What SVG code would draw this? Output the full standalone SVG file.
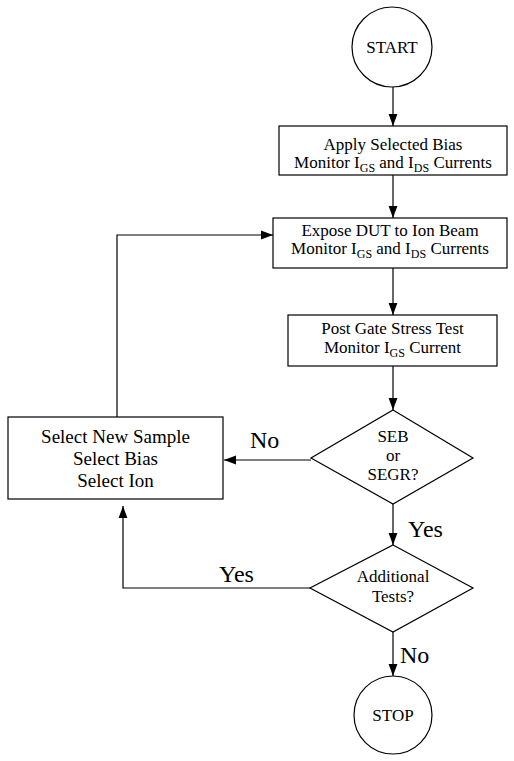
<svg xmlns="http://www.w3.org/2000/svg" width="514" height="761" viewBox="0 0 514 761">
<defs>
<marker id="ah" markerUnits="userSpaceOnUse" markerWidth="12" markerHeight="16" refX="15" refY="5.5" orient="auto" viewBox="0 0 15 11">
<path d="M0,0 L15,5.5 L0,11 Z" fill="#000"/>
</marker>
</defs>
<style>
.sh{fill:#fff;stroke:#000;stroke-width:1.2}
.t{font-family:"Liberation Serif","Times New Roman",serif;font-size:17px;fill:#000;text-anchor:middle}
.big{font-size:19px}
.lbl{font-family:"Liberation Serif","Times New Roman",serif;font-size:24px;fill:#000}
.c{fill:none;stroke:#000;stroke-width:1.2}
</style>
<rect width="514" height="761" fill="#fff"/>
<g id="connectors">
<line class="c" x1="393" y1="87" x2="393" y2="126" marker-end="url(#ah)"/>
<line class="c" x1="393" y1="175" x2="393" y2="218" marker-end="url(#ah)"/>
<line class="c" x1="393" y1="268" x2="393" y2="315" marker-end="url(#ah)"/>
<line class="c" x1="393" y1="366" x2="393" y2="410" marker-end="url(#ah)"/>
<polyline class="c" points="117,417 117,235 273,235" marker-end="url(#ah)"/>
<line class="c" x1="311" y1="460" x2="224" y2="460" marker-end="url(#ah)"/>
<line class="c" x1="393" y1="504" x2="393" y2="545" marker-end="url(#ah)"/>
<polyline class="c" points="310,588 123,588 123,506" marker-end="url(#ah)"/>
<line class="c" x1="393" y1="632" x2="393" y2="676" marker-end="url(#ah)"/>
<text class="lbl" x="250" y="448">No</text>
<text class="lbl" x="408" y="537">Yes</text>
<text class="lbl" x="219" y="582">Yes</text>
<text class="lbl" x="400" y="663">No</text>
</g>
<g id="start">
<circle class="sh" cx="392" cy="47" r="40"/>
<text class="t" x="392" y="53" font-size="16.5">START</text>
</g>
<g id="apply">
<rect class="sh" x="279" y="126" width="228" height="49"/>
<text class="t" x="393" y="150">Apply Selected Bias</text>
<text class="t" x="393" y="168">Monitor I<tspan font-size="12" dy="4">GS</tspan><tspan dy="-4"> and I</tspan><tspan font-size="12" dy="4">DS</tspan><tspan dy="-4"> Currents</tspan></text>
</g>
<g id="expose">
<rect class="sh" x="273" y="218" width="234" height="50"/>
<text class="t" x="390" y="236">Expose DUT to Ion Beam</text>
<text class="t" x="390" y="254">Monitor I<tspan font-size="12" dy="4">GS</tspan><tspan dy="-4"> and I</tspan><tspan font-size="12" dy="4">DS</tspan><tspan dy="-4"> Currents</tspan></text>
</g>
<g id="post">
<rect class="sh" x="288" y="315" width="209" height="51"/>
<text class="t" x="392.5" y="334">Post Gate Stress Test</text>
<text class="t" x="392.5" y="353">Monitor I<tspan font-size="12" dy="4">GS</tspan><tspan dy="-4"> Current</tspan></text>
</g>
<g id="select">
<rect class="sh" x="8" y="417" width="215" height="82"/>
<text class="t big" x="115.5" y="443">Select New Sample</text>
<text class="t big" x="115.5" y="465">Select Bias</text>
<text class="t big" x="115.5" y="487">Select Ion</text>
</g>
<g id="seb">
<polygon class="sh" points="393,410 473,458 393,504 311,458"/>
<text class="t" x="393" y="442">SEB</text>
<text class="t" x="393" y="461">or</text>
<text class="t" x="393" y="480">SEGR?</text>
</g>
<g id="additional">
<polygon class="sh" points="393,545 473,588 393,632 310,588"/>
<text class="t" x="393" y="582">Additional</text>
<text class="t" x="393" y="602">Tests?</text>
</g>
<g id="stop">
<circle class="sh" cx="393" cy="715" r="39"/>
<text class="t" x="393" y="721" font-size="16.5">STOP</text>
</g>
</svg>
